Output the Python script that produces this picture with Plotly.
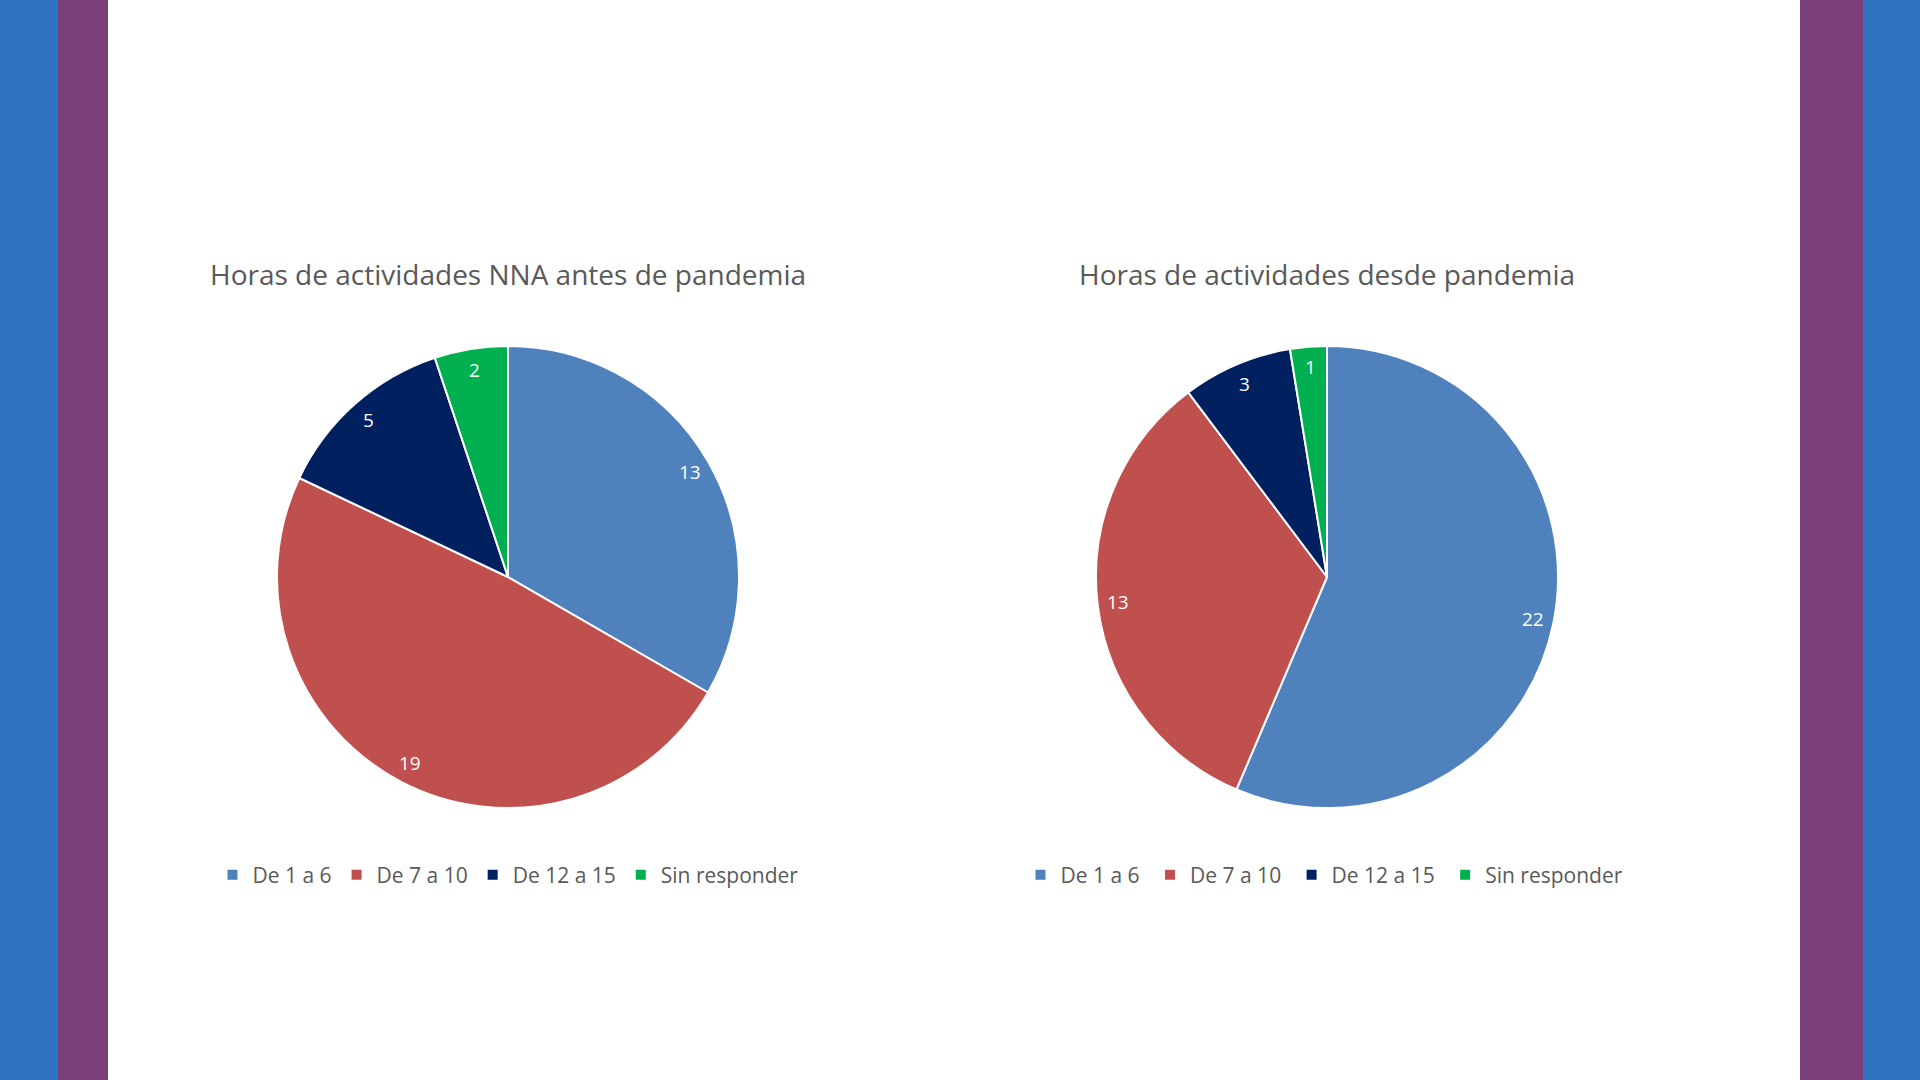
import math
import plotly.graph_objects as go

# Data
categories = ["De 1 a 6", "De 7 a 10", "De 12 a 15", "Sin responder"]
antes_values = [13, 19, 5, 2]
desde_values = [22, 13, 3, 1]
titles = ["Horas de actividades NNA antes de pandemia", "Horas de actividades desde pandemia"]
colors = ["#4F81BD", "#C0504D", "#002060", "#00B050"]

W, H = 1920, 1080
FONT = "Open Sans"
centers = [(508, 577), (1327, 577)]  # pie centers in px
R = 231

fig = go.Figure()

# --- side stripes ---
for x0, x1, c in [(0, 58, "#2E74C0"), (58, 108, "#7B3F7A"),
                  (1800, 1863, "#7B3F7A"), (1863, 1920, "#2E74C0")]:
    fig.add_shape(type="rect", xref="paper", yref="paper",
                  x0=x0 / W, x1=x1 / W, y0=0, y1=1,
                  fillcolor=c, line_width=0, layer="below")

annotations = []
for i, (vals, title) in enumerate(zip([antes_values, desde_values], titles)):
    cx, cy = centers[i]
    # plotly merges pie legend entries with the same label, so the second
    # pie gets a trailing space to keep its own legend
    labels = categories if i == 0 else [c + " " for c in categories]
    fig.add_trace(go.Pie(
        labels=labels,
        values=vals,
        sort=False,
        direction="clockwise",
        rotation=0,
        marker=dict(colors=colors, line=dict(color="white", width=2)),
        textinfo="none",
        hoverinfo="label+value",
        domain=dict(x=[(cx - R) / W, (cx + R) / W],
                    y=[1 - (cy + R) / H, 1 - (cy - R) / H]),
        legend="legend" if i == 0 else "legend2",
        showlegend=True,
    ))
    # data labels near the outer edge of each slice
    total = sum(vals)
    cum = 0
    for v in vals:
        ang = math.radians((cum + v / 2) / total * 360)
        cum += v
        px_ = cx + 0.91 * R * math.sin(ang)
        py_ = cy - 0.91 * R * math.cos(ang)
        annotations.append(dict(x=px_ / W, y=1 - py_ / H, xref="paper", yref="paper",
                                xanchor="center", yanchor="middle",
                                text=str(v), showarrow=False,
                                font=dict(family=FONT, size=19, color="white")))
    annotations.append(dict(x=cx / W, y=1 - 274 / H, xref="paper", yref="paper",
                            xanchor="center", yanchor="middle",
                            text=title, showarrow=False,
                            font=dict(family=FONT, size=28, color="#595959")))

legend_style = dict(orientation="h", xanchor="center", yanchor="middle",
                    font=dict(family=FONT, size=21, color="#595959"),
                    bgcolor="rgba(0,0,0,0)", traceorder="normal")

fig.update_layout(
    width=W, height=H,
    margin=dict(l=0, r=0, t=0, b=0),
    paper_bgcolor="white",
    plot_bgcolor="white",
    annotations=annotations,
    legend=dict(x=centers[0][0] / W, y=1 - 875 / H, **legend_style),
    legend2=dict(x=centers[1][0] / W, y=1 - 875 / H, **legend_style),
)

fig.write_html("out.html", config={"displayModeBar": False},
               post_script="document.body.style.margin='0';")
